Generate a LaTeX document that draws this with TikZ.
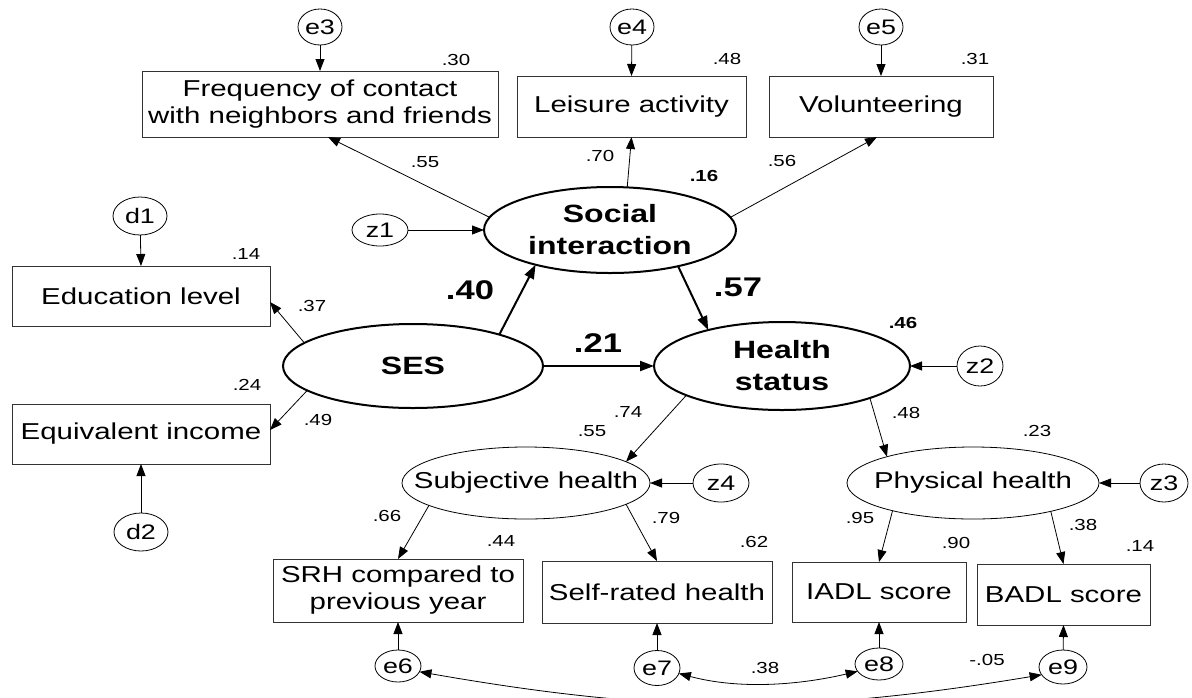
\documentclass[tikz,border=0pt]{standalone}
\usepackage{fontspec}
\setmainfont{Liberation Sans}[FakeStretch=1.28]
\usetikzlibrary{shapes.geometric,arrows.meta}

\begin{document}
\begin{tikzpicture}[x=1pt,y=-1pt,
  every node/.style={inner sep=0pt, outer sep=0pt},
  box/.style={draw=black!80, line width=0.9pt, rectangle, align=center,
              font=\fontsize{23}{27}\selectfont},
  err/.style={draw=black, line width=0.8pt, ellipse, font=\fontsize{21}{24}\selectfont},
  latent/.style={draw=black, line width=2pt, ellipse},
  factor/.style={draw=black, line width=0.8pt, ellipse},
  ltxt/.style={font=\bfseries\fontsize{25}{32}\selectfont, align=center},
  ftxt/.style={font=\fontsize{23}{27}\selectfont},
  num/.style={font=\fontsize{16}{18}\selectfont},
  bnum/.style={font=\bfseries\fontsize{16}{18}\selectfont},
  coef/.style={font=\bfseries\fontsize{27}{30}\selectfont},
  path/.style={draw, line width=0.8pt, -{Triangle[length=12pt,width=9pt]}},
  mainpath/.style={draw, line width=2pt, -{Triangle[length=14pt,width=10pt]}},
  cov/.style={draw, line width=0.8pt,
              {Triangle[length=12pt,width=9pt]}-{Triangle[length=12pt,width=9pt]}}]

\useasboundingbox (0,0) rectangle (1192,697);

% observed indicators
\node[box, minimum width=356pt, minimum height=66pt] (freq) at (320,104)
  {Frequency of contact\\with neighbors and friends};
\node[box, minimum width=229pt, minimum height=61pt] (leis) at (631.5,106.5) {Leisure activity};
\node[box, minimum width=224pt, minimum height=61pt] (vol) at (881,106.5) {Volunteering};
\node[box, minimum width=258pt, minimum height=60pt] (edu) at (141,296) {Education level};
\node[box, minimum width=258pt, minimum height=60pt] (equiv) at (141,434) {Equivalent income};
\node[box, minimum width=250pt, minimum height=63pt] (srh) at (398,590.5)
  {SRH compared to\\previous year};
\node[box, minimum width=230pt, minimum height=62pt] (self) at (657,592) {Self-rated health};
\node[box, minimum width=174pt, minimum height=60pt] (iadl) at (879,592) {IADL score};
\node[box, minimum width=173pt, minimum height=61pt] (badl) at (1063.5,594.5) {BADL score};

% latent variables
\node[latent, minimum width=252pt, minimum height=86pt] (si) at (610,230) {};
\node[ltxt] (si-t) at (si) {Social\\interaction};
\node[latent, minimum width=260pt, minimum height=84pt] (ses) at (413,366) {};
\node[ltxt] (ses-t) at (ses) {SES};
\node[latent, minimum width=256pt, minimum height=88pt] (health) at (782,366) {};
\node[ltxt] (health-t) at (health) {Health\\status};
\node[factor, minimum width=248pt, minimum height=72pt] (subj) at (526,483) {};
\node[ftxt] (subj-t) at (subj) {Subjective health};
\node[factor, minimum width=252pt, minimum height=72pt] (phys) at (973,483) {};
\node[ftxt] (phys-t) at (phys) {Physical health};

% error and disturbance terms
\node[err, minimum width=44pt, minimum height=36pt] (e3) at (320,27) {e3};
\node[err, minimum width=44pt, minimum height=36pt] (e4) at (632,27) {e4};
\node[err, minimum width=44pt, minimum height=36pt] (e5) at (881,27) {e5};
\node[err, minimum width=54pt, minimum height=38pt] (d1) at (140,216) {d1};
\node[err, minimum width=54pt, minimum height=38pt] (d2) at (141,532) {d2};
\node[err, minimum width=56pt, minimum height=32pt] (z1) at (380,230) {z1};
\node[err, minimum width=46pt, minimum height=40pt] (z2) at (980,366) {z2};
\node[err, minimum width=56pt, minimum height=38pt] (z4) at (721,483) {z4};
\node[err, minimum width=48pt, minimum height=38pt] (z3) at (1164,483) {z3};
\node[err, minimum width=46pt, minimum height=32pt] (e6) at (398,666) {e6};
\node[err, minimum width=46pt, minimum height=35pt] (e7) at (657,668) {e7};
\node[err, minimum width=48pt, minimum height=32pt] (e8) at (879,664) {e8};
\node[err, minimum width=48pt, minimum height=34pt] (e9) at (1063,667) {e9};

% measurement paths
\draw[path] (e3) -- (freq.north);
\draw[path] (e4) -- (leis.north);
\draw[path] (e5) -- (vol.north);
\draw[path] (si.174) -- ([xshift=8pt]freq.south);
\draw[path] (si.68) -- (leis.south);
\draw[path] (si.6) -- ([xshift=-4pt]vol.south);
\draw[path] (d1) -- (edu.north);
\draw[path] (d2) -- (equiv.south);
\draw[path] (ses.168) -- ([yshift=-6pt]edu.east);
\draw[path] (ses.193) -- ([yshift=4pt]equiv.east);
\draw[path] (subj.193) -- (srh.north);
\draw[path] (subj.-12.5) -- (self.north);
\draw[path] (phys.199) -- (iadl.north);
\draw[path] (phys.-20) -- (badl.north);
\draw[path] (e6) -- (srh.south);
\draw[path] (e7) -- (self.south);
\draw[path] (e8) -- (iadl.south);
\draw[path] (e9) -- (badl.south);

% disturbances
\draw[path] (z1) -- (si.west);
\draw[path] (z2) -- (health.east);
\draw[path] (z4) -- (subj.east);
\draw[path] (z3) -- (phys.east);

% structural paths
\draw[mainpath] (ses.20) -- (si.205);
\draw[mainpath] (ses.east) -- (health.west);
\draw[mainpath] (si.332) -- (health.154);
\draw[path] (health.197) -- (subj.12);
\draw[path] (health.-20) -- (phys.163);

% residual covariances
\draw[cov] (e7.-14) .. controls +(60,16) and +(-60,14) .. (e8.199);
\draw[cov] (e6.-15) .. controls +(240,42) and +(-240,40) .. (e9.200);

% squared multiple correlations
\node[num] (r-freq) at (456,60) {.30};
\node[num] (r-leis) at (727,59) {.48};
\node[num] (r-vol) at (975,59) {.31};
\node[num] (r-edu) at (246,254) {.14};
\node[num] (r-equiv) at (247,385) {.24};
\node[bnum] (r-si) at (704,176) {.16};
\node[bnum] (r-health) at (903,323) {.46};
\node[num] (r-subj) at (592,431) {.55};
\node[num] (r-phys) at (1037,431) {.23};
\node[num] (r-srh) at (501,541) {.44};
\node[num] (r-self) at (754,542) {.62};
\node[num] (r-iadl) at (956,543) {.90};
\node[num] (r-badl) at (1140,546) {.14};

% loadings
\node[num] (l-freq) at (425,162) {.55};
\node[num] (l-leis) at (600,156) {.70};
\node[num] (l-vol) at (782,161) {.56};
\node[num] (l-edu) at (312,306) {.37};
\node[num] (l-equiv) at (318,420) {.49};
\node[num] (l-subj) at (628,412) {.74};
\node[num] (l-phys) at (906,413) {.48};
\node[num] (l-srh) at (387,516) {.66};
\node[num] (l-self) at (666,518) {.79};
\node[num] (l-iadl) at (860,518) {.95};
\node[num] (l-badl) at (1083,525) {.38};
\node[num] (c-78) at (765,668) {.38};
\node[num] (c-69) at (987,660) {-.05};

% structural coefficients
\node[coef] (b-si) at (470,290) {.40};
\node[coef] (b-health) at (598,343) {.21};
\node[coef] (b-sih) at (738,287) {.57};
\end{tikzpicture}
\end{document}
